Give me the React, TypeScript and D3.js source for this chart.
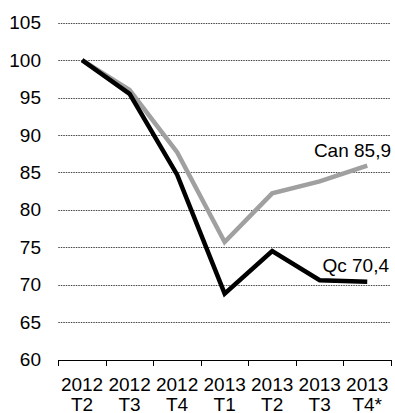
import React from "react";
import * as d3 from "d3";

const categories = ["2012|T2", "2012|T3", "2012|T4", "2013|T1", "2013|T2", "2013|T3", "2013|T4*"];
const canValues = [100, 96.0, 87.7, 75.7, 82.2, 83.8, 85.9];
const qcValues = [100, 95.5, 84.7, 68.8, 74.5, 70.6, 70.4];
const yTicks = [60, 65, 70, 75, 80, 85, 90, 95, 100, 105];
const canLabel = "Can 85,9";
const qcLabel = "Qc 70,4";

const W = 395;
const H = 413;
const FONT = "'Liberation Sans', Arial, sans-serif";

export default function App() {
  const x = d3.scaleBand<string>().domain(categories).range([58.3, 391]).paddingInner(0).paddingOuter(0);
  const y = d3.scaleLinear().domain([60, 105]).range([359.5, 22.7]);
  const cx = (c: string) => (x(c) as number) + x.bandwidth() / 2;

  const line = d3
    .line<number>()
    .x((_, i) => cx(categories[i]))
    .y((d) => y(d));

  const [x0, x1] = x.range();
  const boundaries = categories.map((c) => x(c) as number).concat([x1]);
  const last = categories.length - 1;

  return (
    <svg
      width={W}
      height={H}
      style={{ position: "absolute", left: 0, top: 0, display: "block", background: "#fff" }}
      fontFamily={FONT}
    >
      {yTicks.map((t) =>
        t === 60 ? null : (
          <line
            key={"g" + t}
            x1={x0}
            x2={x1 - 1}
            y1={Math.round(y(t)) + 0.5}
            y2={Math.round(y(t)) + 0.5}
            stroke="#444"
            strokeWidth={1}
            strokeDasharray="1.5,1"
          />
        )
      )}
      {yTicks.map((t) => (
        <text key={"t" + t} x={41} y={y(t)} dy="0.35em" textAnchor="end" fontSize={19} fill="#000">
          {t}
        </text>
      ))}
      <line x1={x0} x2={x1} y1={Math.round(y(60)) + 0.5} y2={Math.round(y(60)) + 0.5} stroke="#000" strokeWidth={1} />
      {boundaries.map((b, i) => (
        <line
          key={"k" + i}
          x1={Math.round(b) + 0.5}
          x2={Math.round(b) + 0.5}
          y1={Math.round(y(60))}
          y2={Math.round(y(60)) + 6}
          stroke="#000"
          strokeWidth={1}
        />
      ))}
      {categories.map((c) => {
        const [a, b] = c.split("|");
        return (
          <text key={"c" + c} x={cx(c)} textAnchor="middle" fontSize={19} fill="#000">
            <tspan x={cx(c)} y={390.5}>{a}</tspan>
            <tspan x={cx(c)} y={411}>{b}</tspan>
          </text>
        );
      })}
      <path d={line(canValues) || ""} fill="none" stroke="#a0a0a0" strokeWidth={4.5} strokeLinejoin="miter" />
      <path d={line(qcValues) || ""} fill="none" stroke="#000" strokeWidth={4.5} strokeLinejoin="miter" />
      <text x={391} y={y(canValues[last]) - 8.5} textAnchor="end" fontSize={19} fill="#000">
        {canLabel}
      </text>
      <text x={389} y={y(qcValues[last]) - 10} textAnchor="end" fontSize={19} fill="#000">
        {qcLabel}
      </text>
    </svg>
  );
}
